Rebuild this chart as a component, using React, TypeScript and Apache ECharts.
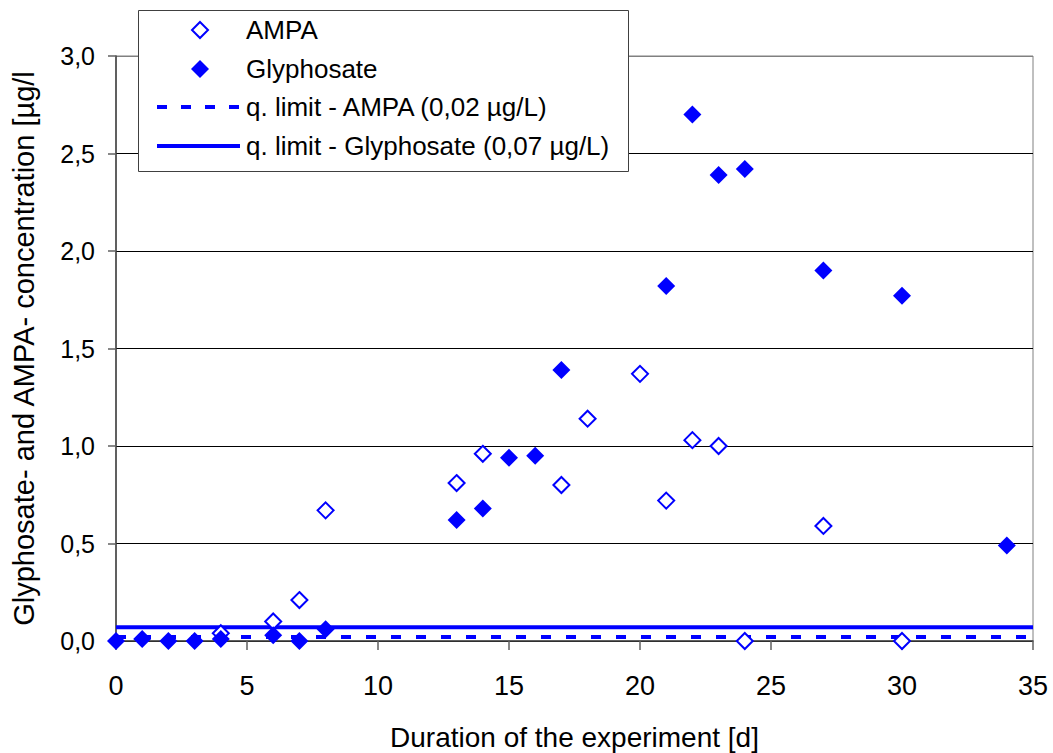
import React, { useEffect, useRef } from "react";
import * as echarts from "echarts";

const ampaDays = [4, 6, 7, 8, 13, 14, 17, 18, 20, 21, 22, 23, 24, 27, 30];
const ampaValues = [0.04, 0.1, 0.21, 0.67, 0.81, 0.96, 0.8, 1.14, 1.37, 0.72, 1.03, 1.0, 0.0, 0.59, 0.0];

const glyDays = [0, 1, 2, 3, 4, 6, 7, 8, 13, 14, 15, 16, 17, 21, 22, 23, 24, 27, 30, 34];
const glyValues = [0.0, 0.01, 0.0, 0.0, 0.01, 0.03, 0.0, 0.06, 0.62, 0.68, 0.94, 0.95, 1.39, 1.82, 2.7, 2.39, 2.42, 1.9, 1.77, 0.49];

const limitAmpa = 0.02;
const limitGly = 0.07;
const xRange = [0, 35];

const seriesNames = [
  "AMPA",
  "Glyphosate",
  "q. limit - AMPA (0,02 µg/L)",
  "q. limit - Glyphosate (0,07 µg/L)",
];

const xTitle = "Duration of the experiment [d]";
const yTitle = "Glyphosate- and AMPA- concentration [µg/l";

const FONT = "'Liberation Sans', Arial, sans-serif";
const BLUE = "#0000ff";

function buildLegend() {
  const rowsY = [30, 69, 107, 146];
  const iconCx = 200;
  const lineX0 = 157;
  const lineX1 = 240;
  const textX = 246;
  const els: any[] = [
    {
      type: "rect",
      shape: { x: 138.5, y: 10.5, width: 490, height: 161 },
      style: { fill: "#ffffff", stroke: "#404040", lineWidth: 1 },
      z: 100,
    },
    {
      type: "polygon",
      shape: {
        points: [
          [iconCx, rowsY[0] - 8],
          [iconCx + 8, rowsY[0]],
          [iconCx, rowsY[0] + 8],
          [iconCx - 8, rowsY[0]],
        ],
      },
      style: { fill: "#ffffff", stroke: BLUE, lineWidth: 2 },
      z: 101,
    },
    {
      type: "polygon",
      shape: {
        points: [
          [iconCx, rowsY[1] - 9],
          [iconCx + 9, rowsY[1]],
          [iconCx, rowsY[1] + 9],
          [iconCx - 9, rowsY[1]],
        ],
      },
      style: { fill: BLUE },
      z: 101,
    },
    {
      type: "line",
      shape: { x1: lineX0, y1: rowsY[2], x2: lineX1, y2: rowsY[2] },
      style: { stroke: BLUE, lineWidth: 4, lineDash: [10, 14] },
      z: 101,
    },
    {
      type: "line",
      shape: { x1: lineX0, y1: rowsY[3], x2: lineX1, y2: rowsY[3] },
      style: { stroke: BLUE, lineWidth: 4 },
      z: 101,
    },
  ];
  seriesNames.forEach((name, i) => {
    els.push({
      type: "text",
      x: textX,
      y: rowsY[i],
      style: {
        text: name,
        fontSize: 26,
        fontFamily: FONT,
        fill: "#000",
        textVerticalAlign: "middle",
        verticalAlign: "middle",
        align: "left",
      },
      z: 101,
    });
  });
  return els;
}

export default function App() {
  const ref = useRef<HTMLDivElement>(null);
  useEffect(() => {
    if (!ref.current) return;
    const chart = echarts.init(ref.current, null, { renderer: "svg" });
    chart.setOption({
      animation: false,
      backgroundColor: "#ffffff",
      textStyle: { fontFamily: FONT },
      grid: {
        left: 116,
        right: 20,
        top: 56,
        bottom: 112,
        show: true,
        containLabel: false,
        outerBoundsMode: "none",
        borderColor: "#808080",
        borderWidth: 1,
        backgroundColor: "transparent",
      },
      legend: { show: false, data: seriesNames },
      graphic: buildLegend(),
      xAxis: {
        type: "value",
        min: xRange[0],
        max: xRange[1],
        interval: 5,
        name: xTitle,
        nameLocation: "middle",
        nameGap: 82,
        nameTextStyle: { fontSize: 28, color: "#000", fontFamily: FONT },
        axisLine: { show: true, onZero: false, lineStyle: { color: "#404040", width: 1.5 } },
        axisTick: { show: true, inside: false, length: 9, lineStyle: { color: "#606060", width: 1.5 } },
        axisLabel: { fontSize: 27, color: "#000", margin: 31, fontFamily: FONT },
        splitLine: { show: false },
      },
      yAxis: {
        type: "value",
        min: 0,
        max: 3,
        interval: 0.5,
        name: yTitle,
        nameLocation: "middle",
        nameGap: 78,
        nameTextStyle: { fontSize: 29, color: "#000", fontFamily: FONT },
        axisLine: { show: true, lineStyle: { color: "#404040", width: 1.5 } },
        axisTick: { show: true, inside: false, length: 8, lineStyle: { color: "#606060", width: 1.5 } },
        axisLabel: {
          fontSize: 25,
          color: "#000",
          margin: 21,
          fontFamily: FONT,
          formatter: (v: number) => v.toFixed(1).replace(".", ","),
        },
        splitLine: {
          show: true,
          lineStyle: {
            color: ["#000000", "#000000", "#000000", "#000000", "#000000", "#000000", "#808080"],
            width: 1,
          },
        },
      },
      series: [
        {
          name: seriesNames[2],
          type: "line",
          data: [
            [xRange[0], limitAmpa],
            [xRange[1], limitAmpa],
          ],
          symbol: "none",
          lineStyle: { color: BLUE, width: 4, type: [10, 15] },
          itemStyle: { color: BLUE },
          z: 2,
        },
        {
          name: seriesNames[3],
          type: "line",
          data: [
            [xRange[0], limitGly],
            [xRange[1], limitGly],
          ],
          symbol: "none",
          lineStyle: { color: BLUE, width: 4, type: "solid" },
          itemStyle: { color: BLUE },
          z: 2,
        },
        {
          name: seriesNames[0],
          type: "scatter",
          data: ampaDays.map((d, i) => [d, ampaValues[i]]),
          symbol: "diamond",
          symbolSize: 16,
          itemStyle: { color: "#ffffff", borderColor: BLUE, borderWidth: 2, opacity: 1 },
          z: 3,
        },
        {
          name: seriesNames[1],
          type: "scatter",
          data: glyDays.map((d, i) => [d, glyValues[i]]),
          symbol: "diamond",
          symbolSize: 18,
          itemStyle: { color: BLUE, opacity: 1 },
          z: 4,
        },
      ],
    });
    return () => chart.dispose();
  }, []);
  return (
    <div
      ref={ref}
      style={{ position: "absolute", left: 0, top: 0, width: 1053, height: 753 }}
    />
  );
}
